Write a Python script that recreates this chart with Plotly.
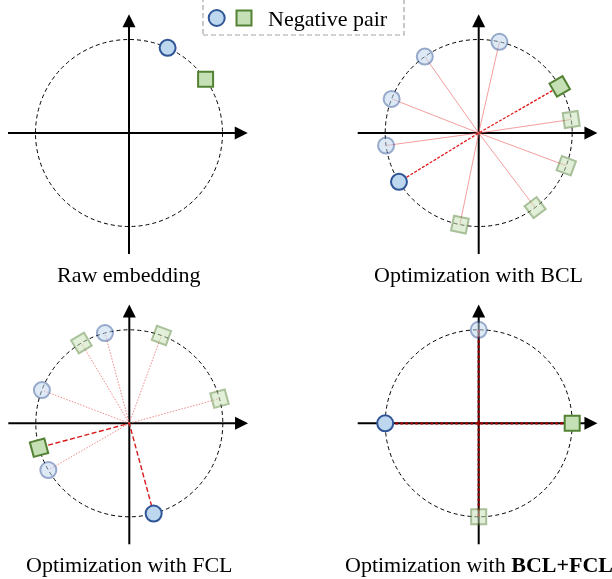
import numpy as np
import plotly.graph_objects as go

# ---------------- data (angles in degrees on the unit circle) ----------------
panel_titles = ["Raw embedding", "Optimization with BCL",
                "Optimization with FCL", "Optimization with <b>BCL+FCL</b>"]
pair_circle_angle = [65.6, 211.5, -74.9, 180.0]      # highlighted negative pair: circle
pair_square_angle = [35.0, 29.9, 195.1, 0.0]         # highlighted negative pair: square
other_circle_angles = [[], [77.2, 125.2, 158.6, 187.7], [105.1, 159.2, 210.0], [90.0]]
other_square_angles = [[], [8.3, -20.5, -52.9, -101.6], [120.8, 69.9, 15.3], [270.0]]
legend_label = "Negative pair"

# ---------------- layout constants ----------------
W, H = 612, 579
R_PX = 93.5
centers = [(129, 133), (478.7, 133), (129.3, 423.3), (478.7, 423.3)]
boxes = [(0, 306, 0, 290), (306, 612, 0, 290), (0, 306, 290, 579), (306, 612, 290, 579)]
rotate_squares = [False, True, True, False]
draw_lines = [False, True, True, True]
title_y = [274, 564]

CIRC_FILL, CIRC_LINE = "#BDD7EE", "#2F5597"
SQ_FILL, SQ_LINE = "#C5E0B4", "#548235"
FADE = 0.5
FONT = "Liberation Serif, Times New Roman, serif"
C_SIZE, S_SIZE = 16, 15

pair_line_style = [None,
                   dict(color="#E31A1C", width=1.3, dash="3px,1.5px"),
                   dict(color="#D7191C", width=1.4, dash="5px,2.5px"),
                   dict(color="#9E0000", width=2.2, dash="3px,2px")]
other_line_style = [None,
                    dict(color="rgba(235,110,110,0.75)", width=0.9),
                    dict(color="rgba(235,110,110,0.8)", width=1.0, dash="1.5px,1.5px"),
                    dict(color="#9E0000", width=2.2, dash="3px,2px")]

fig = go.Figure()
shapes, annotations = [], []
layout_axes = {}


def pol(a):
    a = np.radians(np.asarray(a, dtype=float))
    return np.cos(a), np.sin(a)


for i in range(4):
    k = "" if i == 0 else str(i + 1)
    xa, ya = "x" + k, "y" + k
    cx, cy = centers[i]
    x0, x1, y0, y1 = boxes[i]
    layout_axes["xaxis" + k] = dict(domain=[x0 / W, x1 / W],
                                    range=[(x0 - cx) / R_PX, (x1 - cx) / R_PX],
                                    visible=False, fixedrange=True)
    layout_axes["yaxis" + k] = dict(domain=[1 - y1 / H, 1 - y0 / H],
                                    range=[(cy - y1) / R_PX, (cy - y0) / R_PX],
                                    visible=False, fixedrange=True)

    # axes with arrows
    lo, tip = -1.294, 1.27
    shapes.append(dict(type="line", xref=xa, yref=ya, x0=lo, y0=0, x1=tip - 0.05, y1=0,
                       line=dict(color="black", width=2), layer="below"))
    shapes.append(dict(type="line", xref=xa, yref=ya, x0=0, y0=lo, x1=0, y1=tip - 0.05,
                       line=dict(color="black", width=2), layer="below"))
    for (hx, hy, tx, ty) in [(tip, 0, tip - 0.15, 0), (0, tip, 0, tip - 0.15)]:
        annotations.append(dict(x=hx, y=hy, ax=tx, ay=ty, xref=xa, yref=ya, axref=xa, ayref=ya,
                                text="", showarrow=True, arrowhead=2, arrowsize=1.3,
                                arrowwidth=2, arrowcolor="black"))
    # dashed unit circle
    shapes.append(dict(type="circle", xref=xa, yref=ya, x0=-1, y0=-1, x1=1, y1=1,
                       line=dict(color="black", width=1, dash="4px,3px"), layer="below"))

    cxs, cys = pol(pair_circle_angle[i])
    sxs, sys_ = pol(pair_square_angle[i])
    ocx, ocy = pol(other_circle_angles[i])
    osx, osy = pol(other_square_angles[i])

    if draw_lines[i]:
        ol = other_line_style[i]
        for px, py in list(zip(ocx, ocy)) + list(zip(osx, osy)):
            fig.add_trace(go.Scatter(x=[0, px], y=[0, py], mode="lines", line=ol,
                                     xaxis=xa, yaxis=ya, hoverinfo="skip", showlegend=False))
        fig.add_trace(go.Scatter(x=[float(cxs), 0, float(sxs)], y=[float(cys), 0, float(sys_)],
                                 mode="lines", line=pair_line_style[i],
                                 xaxis=xa, yaxis=ya, hoverinfo="skip", showlegend=False))

    sq_ang_other = [-a for a in other_square_angles[i]] if rotate_squares[i] else 0
    sq_ang_pair = -pair_square_angle[i] if rotate_squares[i] else 0
    # faded markers
    if len(ocx):
        fig.add_trace(go.Scatter(x=ocx, y=ocy, mode="markers", xaxis=xa, yaxis=ya, opacity=FADE,
                                 marker=dict(symbol="circle", size=C_SIZE, color=CIRC_FILL,
                                             line=dict(color=CIRC_LINE, width=2)),
                                 cliponaxis=False, hoverinfo="skip", showlegend=False))
    if len(osx):
        fig.add_trace(go.Scatter(x=osx, y=osy, mode="markers", xaxis=xa, yaxis=ya, opacity=FADE,
                                 marker=dict(symbol="square", size=S_SIZE, color=SQ_FILL,
                                             angle=sq_ang_other,
                                             line=dict(color=SQ_LINE, width=2)),
                                 cliponaxis=False, hoverinfo="skip", showlegend=False))
    # highlighted pair
    fig.add_trace(go.Scatter(x=[float(cxs)], y=[float(cys)], mode="markers", xaxis=xa, yaxis=ya,
                             marker=dict(symbol="circle", size=C_SIZE, color=CIRC_FILL,
                                         line=dict(color=CIRC_LINE, width=2)),
                             cliponaxis=False, hoverinfo="skip", showlegend=False))
    fig.add_trace(go.Scatter(x=[float(sxs)], y=[float(sys_)], mode="markers", xaxis=xa, yaxis=ya,
                             marker=dict(symbol="square", size=S_SIZE, color=SQ_FILL, angle=sq_ang_pair,
                                         line=dict(color=SQ_LINE, width=2)),
                             cliponaxis=False, hoverinfo="skip", showlegend=False))

    # panel title
    annotations.append(dict(x=cx / W, y=1 - title_y[i // 2] / H, xref="paper", yref="paper",
                            text=panel_titles[i], showarrow=False, xanchor="center",
                            yanchor="middle", font=dict(family=FONT, size=22, color="black")))

# ---------------- legend ----------------
layout_axes["xaxis5"] = dict(domain=[200 / W, 410 / W], range=[200, 410], visible=False, fixedrange=True)
layout_axes["yaxis5"] = dict(domain=[1 - 40 / H, 1], range=[40, 0], visible=False, fixedrange=True)
fig.add_trace(go.Scatter(x=[216.7], y=[18], mode="markers", xaxis="x5", yaxis="y5",
                         marker=dict(symbol="circle", size=C_SIZE, color=CIRC_FILL,
                                     line=dict(color=CIRC_LINE, width=2)),
                         cliponaxis=False, hoverinfo="skip", showlegend=False))
fig.add_trace(go.Scatter(x=[244], y=[18], mode="markers", xaxis="x5", yaxis="y5",
                         marker=dict(symbol="square", size=S_SIZE, color=SQ_FILL,
                                     line=dict(color=SQ_LINE, width=2)),
                         cliponaxis=False, hoverinfo="skip", showlegend=False))
annotations.append(dict(x=266, y=18, xref="x5", yref="y5", text=legend_label, showarrow=False,
                        xanchor="left", yanchor="middle",
                        font=dict(family=FONT, size=22, color="black")))
shapes.append(dict(type="rect", xref="paper", yref="paper", x0=203 / W, x1=404 / W,
                   y0=1 - 35 / H, y1=1 + 3 / H, line=dict(color="#A6A6A6", width=1.2, dash="5px,3px")))

fig.update_layout(width=W, height=H, margin=dict(l=0, r=0, t=0, b=0),
                  paper_bgcolor="white", plot_bgcolor="white",
                  shapes=shapes, annotations=annotations, showlegend=False, **layout_axes)

fig.write_html("out.html", config={"displayModeBar": False},
               post_script="document.body.style.margin='0px';document.body.style.overflow='hidden';")
